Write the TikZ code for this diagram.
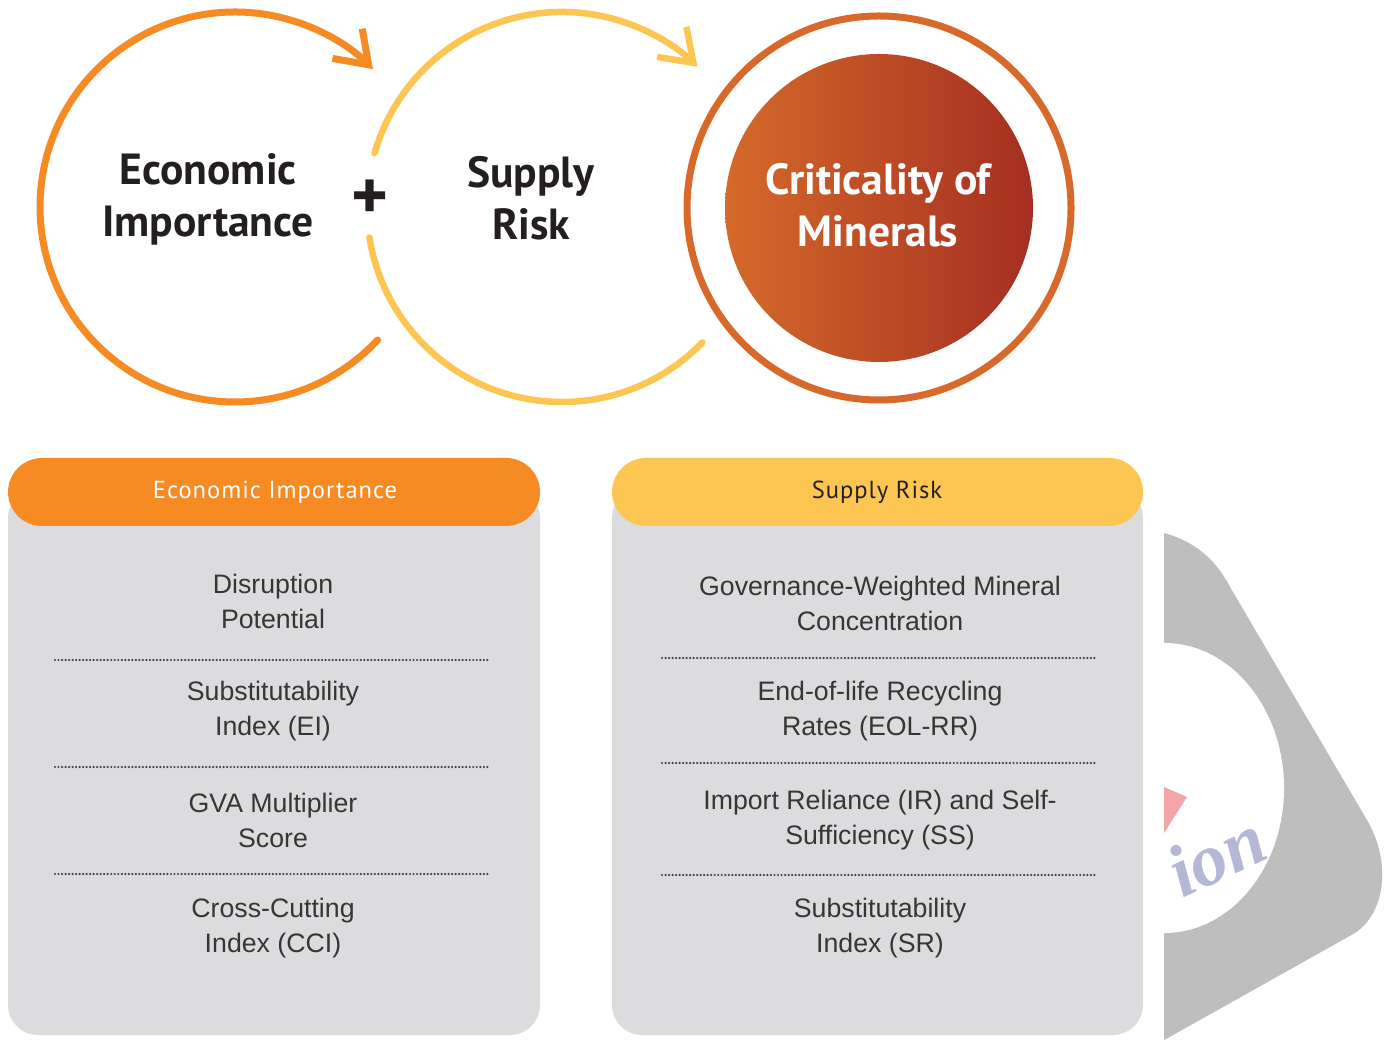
\documentclass[tikz,border=0pt]{standalone}
\usepackage{fontspec}
\setmainfont{Liberation Sans}
\newfontfamily\boldfont{PT Sans}
\newfontfamily\headfont[LetterSpace=4]{PT Sans}
\newfontfamily\wmfont{Liberation Serif}
\usetikzlibrary{arrows.meta}
\definecolor{eiorange}{HTML}{F68B24}
\definecolor{sryellow}{HTML}{FDC652}
\definecolor{ringorange}{HTML}{D9692B}
\definecolor{discleft}{HTML}{D56A2A}
\definecolor{discright}{HTML}{A52E21}
\definecolor{boxgrey}{HTML}{DCDCDE}
\definecolor{inkdark}{HTML}{231F20}
\definecolor{wmgrey}{HTML}{BEBEBE}
\definecolor{wmpink}{HTML}{F3A5A8}
\definecolor{wmblue}{HTML}{B4B8D6}

\begin{document}
\begin{tikzpicture}[line join=round, line cap=round, >={Straight Barb[length=0.3cm,width=0.42cm]}]
\tikzset{every node/.style={inner sep=0pt, align=center},
  bigtxt/.style={font=\boldfont\bfseries\fontsize{12.4}{14.8}\selectfont, text=inkdark},
  itemtxt/.style={font=\fontsize{7.6}{10}\selectfont, text=inkdark!90},
  headtxt/.style={font=\headfont\fontsize{7}{8}\selectfont},
  sep/.style={line width=0.7pt, line cap=round, dash pattern=on 0pt off 1pt, inkdark!85},
  body/.style={fill=boxgrey, rounded corners=0.3cm},
  pill/.style={rounded corners=0.34cm}}
\useasboundingbox (0,0) rectangle (13.98,10.48);

\begin{scope}
\clip (11.64,0) rectangle (13.98,10.48);
\fill[wmgrey] (11.5,5.18) .. controls (12.0,5.1) and (12.2,4.8) .. (12.3,4.61) -- (13.67,2.28) .. controls (13.92,1.85) and (13.85,1.35) .. (13.55,1.15) -- (11.5,0.0) -- cycle;
\fill[white] (11.64,2.6) ellipse[x radius=1.2, y radius=1.45];
\fill[wmpink] (11.64,2.61) -- (11.87,2.51) -- (11.64,2.15) -- cycle;
\node[font=\wmfont\bfseries\itshape\fontsize{21}{21}\selectfont, text=wmblue, rotate=25] (wmtxt) at (12.16,1.93) {ion};
\end{scope}

\coordinate (eic) at (2.35,8.41);
\coordinate (src) at (5.62,8.41);
\coordinate (crc) at (8.79,8.40);
\draw[eiorange, line width=0.07cm, ->] ([shift={(-43:1.95)}]eic) arc[start angle=-43, end angle=-315, radius=1.95];
\draw[sryellow, line width=0.065cm] ([shift={(-44:1.95)}]src) arc[start angle=-44, end angle=-171, radius=1.95];
\draw[sryellow, line width=0.065cm, ->] ([shift={(164:1.95)}]src) arc[start angle=164, end angle=46, radius=1.95];
\draw[ringorange, line width=0.07cm] (crc) circle[radius=1.92];
\shade[left color=discleft, right color=discright] (crc) circle[radius=1.54];

\node[bigtxt] (eitxt) at (2.08,8.49) {Economic\\Importance};
\node[bigtxt, font=\boldfont\bfseries\fontsize{20}{20}\selectfont] (plus) at (3.70,8.48) {+};
\node[bigtxt] (srtxt) at (5.31,8.50) {Supply\\Risk};
\node[bigtxt, text=white] (crtxt) at (8.78,8.43) {Criticality of\\Minerals};

\fill[body] (0.08,0.13) rectangle (5.40,5.6);
\fill[eiorange, pill] (0.08,5.22) rectangle (5.40,5.90);
\node[headtxt, text=white] (eihead) at (2.75,5.56) {Economic Importance};
\fill[body] (6.12,0.13) rectangle (11.43,5.6);
\fill[sryellow, pill] (6.12,5.22) rectangle (11.43,5.90);
\node[headtxt, text=inkdark] (srhead) at (8.77,5.56) {Supply Risk};

\foreach \y/\t/\n in {4.465/{Disruption\\Potential}/1, 3.365/{Substitutability\\Index (EI)}/2, 2.275/{GVA Multiplier\\Score}/3, 1.195/{Cross-Cutting\\Index (CCI)}/4}
  \node[itemtxt] (ei\n) at (2.73,\y) {\t};
\foreach \y/\t/\n in {4.445/{Governance-Weighted Mineral\\Concentration}/1, 3.365/{End-of-life Recycling\\Rates (EOL-RR)}/2, 2.275/{Import Reliance (IR) and Self-\\Sufficiency (SS)}/3, 1.195/{Substitutability\\Index (SR)}/4}
  \node[itemtxt] (sr\n) at (8.80,\y) {\t};
\foreach \y in {3.88,2.81,1.74} \draw[sep] (0.55,\y) -- (4.90,\y);
\foreach \y in {3.90,2.85,1.73} \draw[sep] (6.62,\y) -- (10.97,\y);
\end{tikzpicture}
\end{document}
